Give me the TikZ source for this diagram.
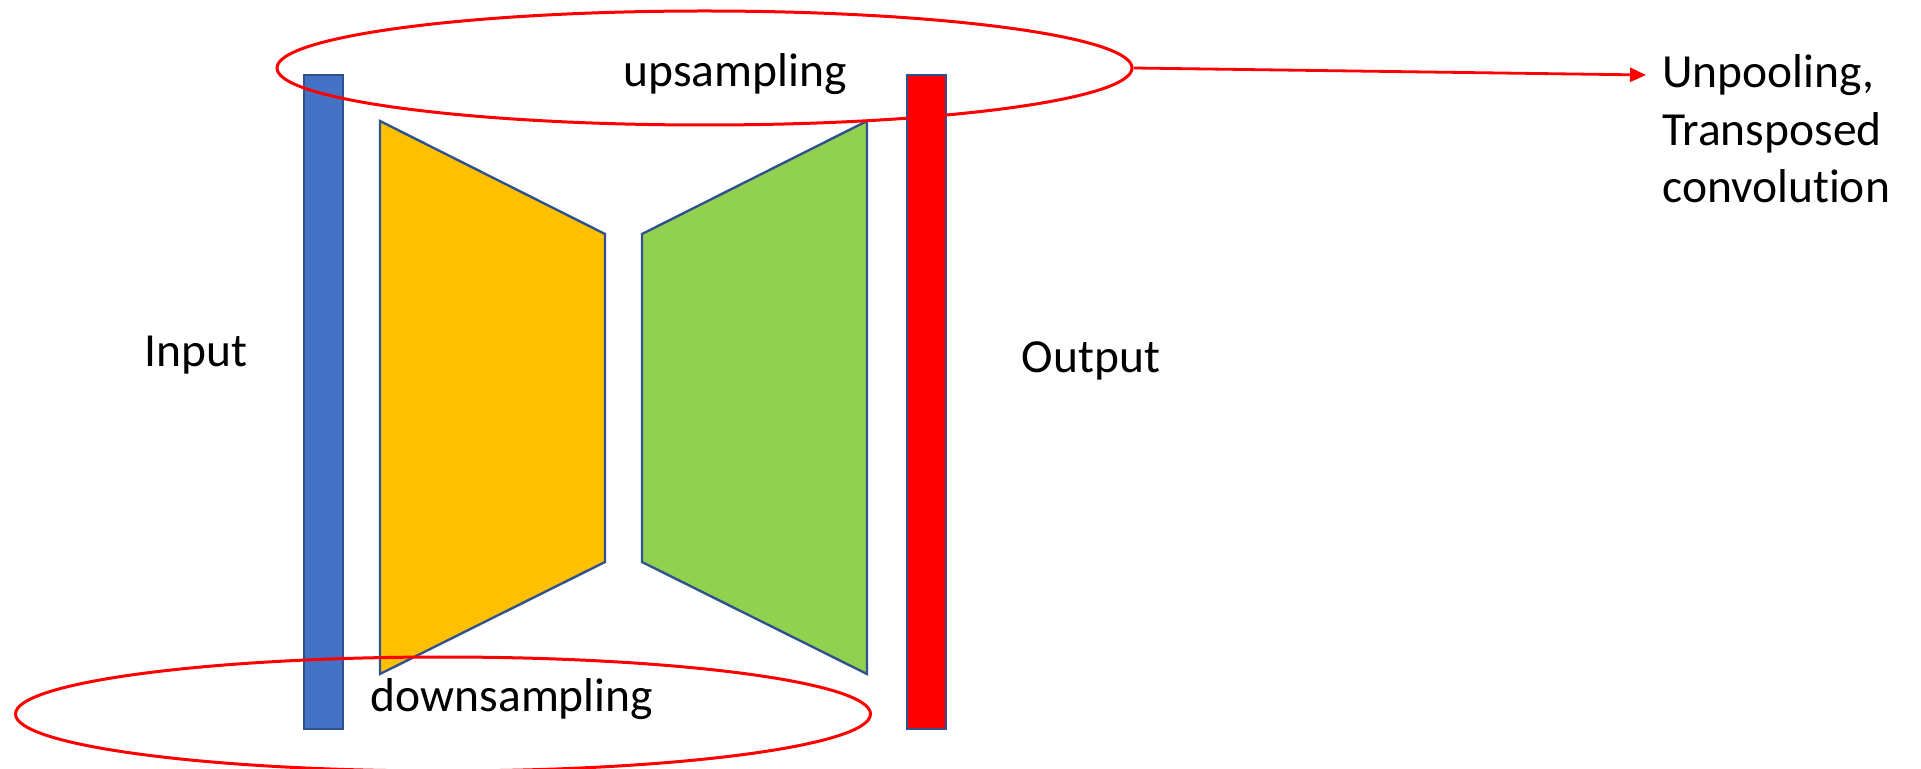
\documentclass[tikz,border=0pt]{standalone}
\usepackage{fontspec}
\setmainfont{Carlito}[Ligatures=NoCommon]
\usetikzlibrary{shapes.geometric,arrows.meta}
\definecolor{barblue}{HTML}{4472C4}
\definecolor{edgeblue}{HTML}{2F528F}
\definecolor{encgold}{HTML}{FFC000}
\definecolor{decgreen}{HTML}{92D050}
\definecolor{markred}{HTML}{FF0000}
\begin{document}
\begin{tikzpicture}[x=0.5pt,y=-0.5pt,
  lbl/.style={inner sep=0pt,font=\fontsize{23.75pt}{28.8pt}\selectfont},
  bar/.style={draw=edgeblue,line width=1.2pt,inner sep=0pt,minimum width=19.5pt,minimum height=327pt},
  stage/.style={draw=edgeblue,line width=1.2pt,line join=miter},
  ring/.style={draw=markred,line width=1.5pt,ellipse,inner sep=0pt,minimum width=427.5pt,minimum height=57pt}]
\useasboundingbox (0,0) rectangle (1921,769);

% input and output feature bars
\node[bar,fill=barblue] (inbar) at (323.5,402) {};
\node[bar,fill=markred] (outbar) at (926.5,402) {};

% encoder (shrinking) and decoder (growing) stages
\draw[stage,fill=encgold] (380,121) -- (605,234) -- (605,562) -- (380,674) -- cycle;
\draw[stage,fill=decgreen] (642,234) -- (867,121) -- (867,674) -- (642,562) -- cycle;

% highlighted regions
\node[ring] (up) at (704.5,68) {};
\node[ring] (down) at (443,714) {};

% labels
\node[lbl,anchor=base] (uptext) at (735,87) {upsampling};
\node[lbl,anchor=base] (downtext) at (512,711) {downsampling};
\node[lbl,anchor=base] (intext) at (196,367) {Input};
\node[lbl,anchor=base] (outtext) at (1091,373) {Output};
\node[lbl,anchor=base west,align=left] (methods) at (1662,203) {Unpooling,\\Transposed\\convolution};

% pointer from the upsampling region to its methods
\coordinate (tip) at (1646,75);
\draw[markred,line width=1.4pt,-{Triangle[length=8pt,width=7pt]}] (up.east) -- (tip);
\end{tikzpicture}
\end{document}
